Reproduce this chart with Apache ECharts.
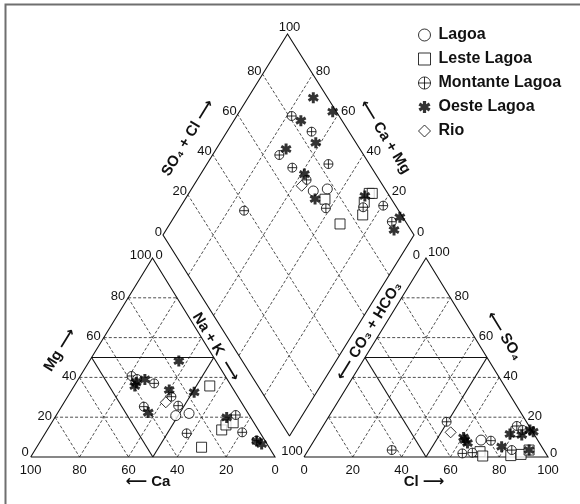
<!DOCTYPE html>
<html>
<head>
<meta charset="utf-8">
<script src="https://cdn.jsdelivr.net/npm/echarts@6/dist/echarts.min.js"></script>
<style>
  html, body { margin: 0; padding: 0; background: #fff; }
  #chart { width: 580px; height: 504px; }
</style>
</head>
<body>
<div id="chart"></div>
<script>
// values (percent of meq/L)
// cations: [Ca, Mg]  (Na+K = 100 - Ca - Mg)
// anions:  [Cl, SO4] (CO3+HCO3 = 100 - Cl - SO4)
// diamond: [SO4+Cl, Ca+Mg]
const tickValues = [0, 20, 40, 60, 80, 100];
const seriesNames = ['Lagoa', 'Leste Lagoa', 'Montante Lagoa', 'Oeste Lagoa', 'Rio'];

const lagoaCat = [[30.2, 20.8], [24.2, 21.9]];
const lagoaAn = [[68.3, 8.5]];
const lagoaDia = [[70.9, 51.0], [77.0, 45.9]];

const lesteCat = [[8.8, 35.7], [27.6, 4.9], [15.0, 13.6], [12.0, 16.1], [8.5, 17.2]];
const lesteAn = [[70.8, 2.7], [73.0, 0.5], [84.4, 0.7], [88.3, 1.3], [90.5, 3.5], [80.5, 12.7]];
const lesteDia = [[73.5, 44.3], [73.3, 32.2], [92.6, 28.1], [93.8, 26.9], [88.4, 27.9], [84.6, 25.4]];

const montanteCat = [[38.3, 40.7], [36.8, 39.2], [30.9, 37.0], [27.2, 30.3], [26.7, 25.8],
  [41.0, 25.3], [30.2, 11.9], [5.5, 21.1], [7.2, 12.4], [3.4, 8.2]];
const montanteAn = [[49.6, 17.7], [34.2, 3.5], [72.5, 8.2], [64.0, 1.8], [67.9, 2.2],
  [83.4, 3.5], [79.4, 15.6], [82.8, 13.6]];
const montanteDia = [[81.1, 78.1], [85.1, 66.3], [66.4, 73.4], [68.4, 65.1], [83.7, 51.6],
  [71.0, 56.4], [71.6, 41.7], [38.4, 73.7], [86.7, 27.1], [95.1, 19.5], [94.5, 12.1]];

const oesteCat = [[15.2, 48.2], [33.7, 39.0], [39.5, 35.7], [38.0, 37.5], [26.4, 33.7],
  [16.8, 32.5], [40.7, 22.3], [9.8, 19.9], [2.2, 6.5], [3.5, 8.0]];
const oesteAn = [[61.7, 8.5], [60.5, 9.8], [63.5, 7.0], [78.4, 5.2], [78.6, 11.6],
  [83.7, 11.1], [85.8, 13.6], [87.6, 12.7], [90.5, 3.5]];
const oesteDia = [[94.3, 74.0], [98.5, 62.8], [83.6, 73.3], [84.0, 61.9], [70.6, 72.2],
  [71.6, 58.7], [69.6, 48.3], [90.2, 29.2], [98.8, 10.0], [93.3, 9.2]];

const rioCat = [[30.9, 27.5]];
const rioAn = [[53.9, 12.4]];
const rioDia = [[67.6, 56.9]];

// layout of the three plotting areas (chart units == pixels)
const CAT = { a: [30.7, 457], b: [275, 457], c: [152.5, 258] }; // a: Ca, b: Na+K, c: Mg
const ANI = { a: [304, 457], b: [548, 457], c: [426, 258] };    // a: CO3+HCO3, b: Cl, c: SO4
const DIA = { b: [289.5, 436], l: [163, 235], r: [414, 235] };

const FONT = "'Liberation Sans', Arial, 'DejaVu Sans', sans-serif";

function tern(T, pa, pc) {
  const pb = 100 - pa - pc;
  return [
    (T.a[0] * pa + T.b[0] * pb + T.c[0] * pc) / 100,
    (T.a[1] * pa + T.b[1] * pb + T.c[1] * pc) / 100,
  ];
}
function diamond(s, c) {
  const D = DIA;
  return [
    D.b[0] + (s / 100) * (D.r[0] - D.b[0]) + (c / 100) * (D.l[0] - D.b[0]),
    D.b[1] + (s / 100) * (D.r[1] - D.b[1]) + (c / 100) * (D.l[1] - D.b[1]),
  ];
}
const catXY = (d) => tern(CAT, d[0], d[1]);
const anXY = (d) => tern(ANI, 100 - d[0] - d[1], d[1]);
const diaXY = (d) => diamond(d[0], d[1]);

// grid lines
const solid = [];
const dashed = [];
[CAT, ANI].forEach((T) => {
  solid.push([T.a, T.b, T.c, T.a]);
  [20, 40, 50, 60, 80].forEach((v) => {
    const segs = [
      [tern(T, 100 - v, v), tern(T, 0, v)],
      [tern(T, v, 100 - v), tern(T, v, 0)],
      [tern(T, 100 - v, 0), tern(T, 0, 100 - v)],
    ];
    segs.forEach((s) => (v === 50 ? solid : dashed).push(s));
  });
});
solid.push([diamond(0, 0), diamond(100, 0), diamond(100, 100), diamond(0, 100), diamond(0, 0)]);
[20, 40, 60, 80].forEach((v) => {
  dashed.push([diamond(v, 0), diamond(v, 100)]);
  dashed.push([diamond(0, v), diamond(100, v)]);
});

// marker shapes
function asteriskPath(R, w) {
  const pts = [];
  for (let k = 0; k < 6; k++) {
    const t = ((-90 + 60 * k) * Math.PI) / 180;
    const dx = Math.cos(t), dy = Math.sin(t);
    const px = -dy, py = dx;
    pts.push([R * dx - w * px, R * dy - w * py]);
    pts.push([R * dx + w * px, R * dy + w * py]);
    const ti = t + Math.PI / 6;
    pts.push([2 * w * Math.cos(ti), 2 * w * Math.sin(ti)]);
  }
  return 'path://M' + pts.map((p) => (p[0] + R).toFixed(2) + ',' + (p[1] + R).toFixed(2)).join(' L') + ' Z';
}
const crossPath = 'path://M0,10 C0,4.48 4.48,0 10,0 C15.52,0 20,4.48 20,10 C20,15.52 15.52,20 10,20 ' +
  'C4.48,20 0,15.52 0,10 Z M10,0 L10,20 M0,10 L20,10';

const hollow = { color: '#fff', borderColor: '#000', borderWidth: 1 };
const styles = {
  'Lagoa': { symbol: 'circle', size: 10, itemStyle: hollow },
  'Leste Lagoa': { symbol: 'rect', size: 10, itemStyle: hollow },
  'Montante Lagoa': { symbol: crossPath, size: 9, itemStyle: hollow },
  'Oeste Lagoa': { symbol: asteriskPath(10, 2.7), size: 11, itemStyle: { color: '#000', borderWidth: 0 } },
  'Rio': { symbol: 'diamond', size: 11, itemStyle: hollow },
};
const groupData = {
  'Lagoa': [lagoaCat, lagoaAn, lagoaDia],
  'Leste Lagoa': [lesteCat, lesteAn, lesteDia],
  'Montante Lagoa': [montanteCat, montanteAn, montanteDia],
  'Oeste Lagoa': [oesteCat, oesteAn, oesteDia],
  'Rio': [rioCat, rioAn, rioDia],
};

const series = [
  {
    type: 'lines', coordinateSystem: 'cartesian2d', polyline: true, silent: true, z: 1,
    data: dashed.map((c) => ({ coords: c })),
    lineStyle: { color: '#222', width: 0.8, type: [3, 2], opacity: 1 },
  },
  {
    type: 'lines', coordinateSystem: 'cartesian2d', polyline: true, silent: true, z: 2,
    data: solid.map((c) => ({ coords: c })),
    lineStyle: { color: '#111', width: 1.1, opacity: 1 },
  },
];
seriesNames.forEach((name) => {
  const st = styles[name];
  const [cat, an, dia] = groupData[name];
  [cat.map(catXY), an.map(anXY), dia.map(diaXY)].forEach((pts) => {
    series.push({
      type: 'scatter', name: name, z: 5,
      symbol: st.symbol, symbolSize: st.size,
      itemStyle: st.itemStyle,
      data: pts,
    });
  });
});

// tick labels
const texts = [];
function addText(t, x, y, align, va) {
  texts.push({
    type: 'text', x: x, y: y, silent: true,
    style: {
      text: String(t), x: 0, y: 0, font: '13px ' + FONT, fill: '#111',
      align: align, verticalAlign: va || 'middle', textAlign: align, textVerticalAlign: va || 'middle',
    },
  });
}
tickValues.forEach((v) => {
  let p = tern(CAT, v, 0);
  addText(v, p[0], p[1] + 13, 'center');
  p = tern(CAT, 100 - v, v);
  if (v === 0) addText(v, p[0] - 2, p[1] - 5, 'right');
  else if (v === 100) { addText(v, p[0] - 1, p[1] - 3, 'right'); addText(0, p[0] + 3, p[1] - 3, 'left'); }
  else addText(v, p[0] - 3, p[1] - 1, 'right');

  p = tern(ANI, 100 - v, 0);
  addText(v, p[0], p[1] + 13, 'center');
  p = tern(ANI, 0, v);
  if (v === 0) addText(v, p[0] + 2, p[1] - 4, 'left');
  else if (v === 100) { addText(v, p[0] + 2, p[1] - 6, 'left'); addText(0, p[0] - 6, p[1] - 3, 'right'); }
  else addText(v, p[0] + 4, p[1] - 1, 'left');

  p = diamond(v, 100);
  if (v === 100) addText(v, p[0] + 2, p[1] - 7, 'center');
  else addText(v, p[0] - 1, p[1] - 3, 'right');
  if (v < 100) {
    p = diamond(100, v);
    addText(v, p[0] + 3, p[1] - 3, 'left');
  }
});
addText(100, DIA.b[0] + 2.5, DIA.b[1] + 15, 'center');

// axis titles
const ang = Math.atan2(199, 122);
const titles = [
  ['Mg \u27F6', 60, 350, ang],
  ['\u27F5 Ca', 148, 482, 0],
  ['Cl \u27F6', 424, 482, 0],
  ['\u27F5 SO\u2084', 504, 336, -ang],
  ['SO\u2084 + Cl \u27F6', 188, 138, ang],
  ['\u27F5 Ca + Mg', 385, 137, -ang],
  ['Na + K  \u27F6', 216, 347, -ang],
  ['\u27F5 CO\u2083 + HCO\u2083', 369, 331, ang],
];
titles.forEach(([t, x, y, r]) => {
  texts.push({
    type: 'text', x: x, y: y, rotation: r, silent: true,
    style: {
      text: t, x: 0, y: 0, font: 'bold 15px ' + FONT, fill: '#111',
      align: 'center', verticalAlign: 'middle', textAlign: 'center', textVerticalAlign: 'middle',
    },
  });
});
texts.push({
  type: 'rect', silent: true,
  shape: { x: 5.5, y: 4.5, width: 700, height: 700 },
  style: { fill: 'none', stroke: '#6f6f6f', lineWidth: 2 },
});

const chart = echarts.init(document.getElementById('chart'));
chart.setOption({
  animation: false,
  backgroundColor: '#fff',
  grid: { left: 0, right: 0, top: 0, bottom: 0 },
  xAxis: { type: 'value', min: 0, max: 580, show: false },
  yAxis: { type: 'value', min: 0, max: 504, inverse: true, show: false },
  legend: {
    orient: 'vertical', left: 418, top: 27, padding: 0,
    itemWidth: 12, itemHeight: 12, itemGap: 8,
    data: seriesNames,
    itemStyle: { borderWidth: 1 },
    textStyle: { fontFamily: FONT, fontWeight: 'bold', fontSize: 16, color: '#111', padding: [0, 0, 0, 3] },
  },
  graphic: texts,
  series: series,
});
</script>
</body>
</html>
